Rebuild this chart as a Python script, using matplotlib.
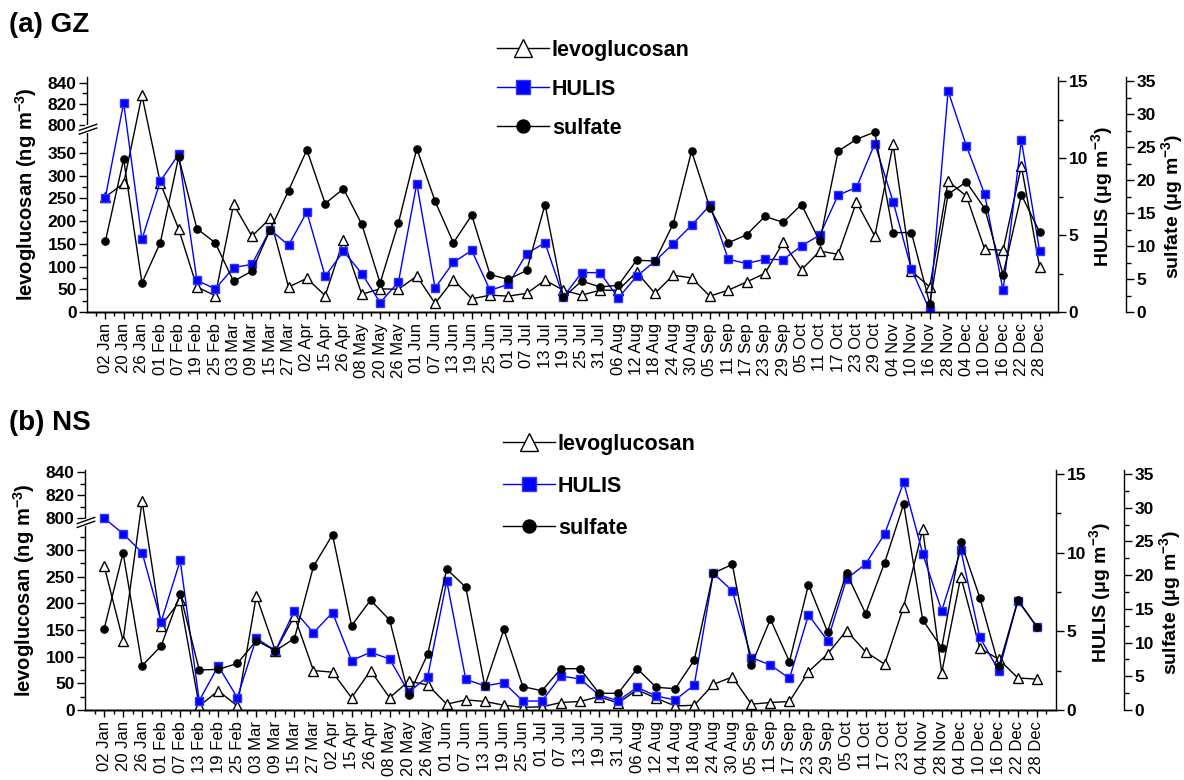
import numpy as np
import matplotlib
matplotlib.use("Agg")
import matplotlib.pyplot as plt
from matplotlib.ticker import FixedLocator

# ==========================================================
# Data
# ==========================================================

gz_dates = [
    "02 Jan", "20 Jan", "26 Jan", "01 Feb", "07 Feb", "19 Feb", "25 Feb",
    "03 Mar", "09 Mar", "15 Mar", "27 Mar", "02 Apr", "15 Apr", "26 Apr",
    "08 May", "20 May", "26 May", "01 Jun", "07 Jun", "13 Jun", "19 Jun",
    "25 Jun", "01 Jul", "07 Jul", "13 Jul", "19 Jul", "25 Jul", "31 Jul",
    "06 Aug", "12 Aug", "18 Aug", "24 Aug", "30 Aug", "05 Sep", "11 Sep",
    "17 Sep", "23 Sep", "29 Sep", "05 Oct", "11 Oct", "17 Oct", "23 Oct",
    "29 Oct", "04 Nov", "10 Nov", "16 Nov", "28 Nov", "04 Dec", "10 Dec",
    "16 Dec", "22 Dec", "28 Dec",
]

gz_levo = [
    253, 283, 828, 284, 183, 55, 36, 237, 167, 206, 55, 74, 36, 158, 39, 51,
    50, 79, 19, 71, 29, 37, 35, 41, 70, 48, 37, 48, 48, 88, 41, 81, 75, 35,
    48, 66, 85, 153, 93, 134, 127, 242, 167, 369, 90, 55, 288, 255, 138, 136,
    321, 99,
]

gz_hulis = [
    7.44, 13.6, 4.73, 8.5, 10.25, 2.06, 1.5, 2.89, 3.1, 5.36, 4.34, 6.5,
    2.32, 3.95, 2.5, 0.61, 1.95, 8.35, 1.56, 3.23, 4.0, 1.41, 1.8, 3.8, 4.5,
    0.98, 2.56, 2.56, 0.91, 2.32, 3.3, 4.45, 5.64, 6.94, 3.43, 3.15, 3.43,
    3.4, 4.3, 5.0, 7.6, 8.1, 10.95, 7.18, 2.78, 0.11, 14.37, 10.8, 7.65,
    1.41, 11.16, 3.95,
]

gz_sulfate = [
    10.7, 23.2, 4.4, 10.5, 23.5, 12.65, 10.5, 4.66, 6.2, 12.5, 18.4, 24.6,
    16.45, 18.7, 13.3, 4.4, 13.5, 24.8, 16.8, 10.5, 14.7, 5.67, 4.96, 6.3,
    16.3, 2.2, 4.7, 3.8, 4.05, 7.85, 7.74, 13.4, 24.4, 15.8, 10.5, 11.7,
    14.5, 13.6, 16.3, 10.7, 24.4, 26.2, 27.3, 12.05, 12.05, 1.27, 17.9,
    19.7, 15.7, 5.67, 17.8, 12.1,
]

ns_dates = [
    "02 Jan", "20 Jan", "26 Jan", "01 Feb", "07 Feb", "13 Feb", "19 Feb",
    "25 Feb", "03 Mar", "09 Mar", "15 Mar", "27 Mar", "02 Apr", "15 Apr",
    "26 Apr", "08 May", "20 May", "26 May", "01 Jun", "07 Jun", "13 Jun",
    "19 Jun", "25 Jun", "01 Jul", "07 Jul", "13 Jul", "19 Jul", "31 Jul",
    "06 Aug", "12 Aug", "14 Aug", "18 Aug", "24 Aug", "30 Aug", "05 Sep",
    "11 Sep", "17 Sep", "23 Sep", "29 Sep", "05 Oct", "11 Oct", "17 Oct",
    "23 Oct", "04 Nov", "28 Nov", "04 Dec", "10 Dec", "16 Dec", "22 Dec",
    "28 Dec",
]

ns_levo = [
    271, 130, 815, 158, 206, 7.5, 36, 7.5, 214, 111, 176, 74, 71, 23, 74, 23,
    54, 47, 11, 19, 16, 9, 5, 6, 14, 16, 25, 13, 38, 22, 7.5, 9, 48, 62, 11,
    14, 16, 72, 105, 149, 109, 86, 194, 339, 70, 250, 116, 95, 60, 58,
]

ns_hulis = [
    12.2, 11.2, 10.0, 5.61, 9.5, 0.59, 2.8, 0.78, 4.56, 3.77, 6.3, 4.91,
    6.19, 3.14, 3.67, 3.24, 1.12, 2.12, 8.2, 1.95, 1.53, 1.74, 0.57, 0.57,
    2.16, 1.97, 0.95, 0.59, 1.44, 0.89, 0.64, 1.59, 8.69, 7.57, 3.33, 2.86,
    2.01, 6.04, 4.41, 8.33, 9.28, 11.19, 14.47, 9.92, 6.31, 10.17, 4.62,
    2.48, 6.95, 5.26,
]

ns_sulfate = [
    11.97, 23.3, 6.57, 9.5, 17.2, 5.93, 6.03, 6.9, 10.3, 8.8, 10.6, 21.3,
    26.0, 12.5, 16.3, 13.35, 2.2, 8.3, 20.9, 18.2, 3.56, 11.97, 3.46, 2.86,
    6.13, 6.13, 2.48, 2.48, 6.13, 3.37, 3.16, 7.4, 20.3, 21.6, 6.67, 13.45,
    7.17, 18.6, 11.6, 20.3, 14.3, 21.85, 30.55, 13.35, 9.24, 24.96, 16.65,
    6.5, 16.3, 12.35,
]

# ==========================================================
# Style
# ==========================================================

plt.rcParams["font.family"] = ["Liberation Sans", "DejaVu Sans"]
plt.rcParams["font.weight"] = "bold"
plt.rcParams["axes.labelweight"] = "bold"
plt.rcParams["mathtext.fontset"] = "custom"
plt.rcParams["mathtext.rm"] = "Liberation Sans:bold"
plt.rcParams["mathtext.bf"] = "Liberation Sans:bold"
plt.rcParams["axes.linewidth"] = 1.0


def broken_scale(a, low_top, up_bottom, b, gap):
    # piecewise linear y scale: lower part, tiny gap, stretched upper part
    f_low = a * low_top
    f_up = f_low + gap

    def forward(y):
        y = np.asarray(y, dtype=float)
        return np.where(
            y <= low_top, a * y,
            np.where(y >= up_bottom, f_up + b * (y - up_bottom),
                     f_low + (y - low_top) * gap / (up_bottom - low_top)))

    def inverse(f):
        f = np.asarray(f, dtype=float)
        return np.where(
            f <= f_low, f / a,
            np.where(f >= f_up, up_bottom + (f - f_up) / b,
                     low_top + (f - f_low) * (up_bottom - low_top) / gap))

    return forward, inverse


def style_y(axis, major, minor):
    axis.yaxis.set_major_locator(FixedLocator(major))
    axis.yaxis.set_minor_locator(FixedLocator(minor))
    axis.tick_params(axis="y", which="major", length=6, width=1,
                     labelsize=12.5, pad=1.5)
    axis.tick_params(axis="y", which="minor", length=3.5, width=1)


fig = plt.figure(figsize=(11.84, 7.8), dpi=100)


def draw_panel(rect, dates, levo, hulis, sulfate, brk, levo_top,
               hulis_top, sulf_top, lo_major, lo_minor, title, title_y,
               leg_xy, leg_space):

    x = np.arange(len(dates))

    ax = fig.add_axes(rect)
    fwd, inv = broken_scale(*brk)
    ax.set_yscale("function", functions=(fwd, inv))
    ax.set_ylim(0, levo_top)
    ax.set_xlim(-1, len(dates))

    l1, = ax.plot(x, levo, color="black", lw=1.0, marker="^",
                  markersize=7.5, markerfacecolor="white",
                  markeredgecolor="black", markeredgewidth=1.0,
                  label="levoglucosan")

    ax_h = ax.twinx()
    l2, = ax_h.plot(x, hulis, color="#0000ff", lw=1.0, marker="s",
                    markersize=5.6, markerfacecolor="#0000ff",
                    markeredgecolor="#3333ff", label="HULIS")
    ax_h.set_ylim(0, hulis_top)

    ax_s = ax.twinx()
    l3, = ax_s.plot(x, sulfate, color="black", lw=1.0, marker="o",
                    markersize=5.2, label="sulfate")
    ax_s.set_ylim(0, sulf_top)
    ax_s.spines["right"].set_position(("outward", 49))

    for a_ in (ax, ax_h, ax_s):
        a_.spines["top"].set_visible(False)
    ax.spines["right"].set_visible(False)
    ax_h.spines["left"].set_visible(False)
    ax_s.spines["left"].set_visible(False)

    # x axis
    ax.set_xticks(x)
    ax.set_xticks(np.arange(-0.5, len(dates), 1.0), minor=True)
    ax.set_xticklabels(dates, rotation=90, fontsize=12, fontweight="normal")
    ax.tick_params(axis="x", which="major", length=5, width=1, pad=3)
    ax.tick_params(axis="x", which="minor", length=3, width=1)

    # y axes
    style_y(ax, lo_major + [800, 820, 840], lo_minor + [810, 830])
    style_y(ax_h, [0, 5, 10, 15], [2.5, 7.5, 12.5])
    style_y(ax_s, list(range(0, 36, 5)), list(np.arange(2.5, 35, 5)))

    ax.set_ylabel(r"levoglucosan (ng m$^{\mathbf{-3}}$)", fontsize=14.5)
    ax.yaxis.set_label_coords(-0.049, 0.5)
    ax_h.set_ylabel(r"HULIS ($\mathbf{\mu}$g m$^{\mathbf{-3}}$)", fontsize=14)
    ax_h.yaxis.set_label_coords(1.032, 0.49)
    ax_s.set_ylabel(r"sulfate ($\mathbf{\mu}$g m$^{\mathbf{-3}}$)",
                    fontsize=14)
    ax_s.yaxis.set_label_coords(1.104, 0.45)

    # break marks on the left spine
    yb = float((fwd(brk[1]) + brk[4] / 2) / fwd(levo_top))
    ax.plot([0, 0], [yb - 0.008, yb + 0.008], color="white", lw=3,
            transform=ax.transAxes, clip_on=False, zorder=5)
    for dy in (-0.008, 0.008):
        ax.plot([-0.008, 0.010], [yb + dy - 0.013, yb + dy + 0.013],
                color="black", lw=1.0, transform=ax.transAxes,
                clip_on=False, zorder=6)

    fig.text(0.008, title_y, title, fontsize=20, fontweight="bold",
             va="center", ha="left")

    fig.legend([l1, l2, l3], ["levoglucosan", "HULIS", "sulfate"],
               loc="upper left", bbox_to_anchor=leg_xy, frameon=False,
               fontsize=15.5, markerscale=1.8, handlelength=2.4,
               handletextpad=0.15, labelspacing=leg_space, borderpad=0,
               borderaxespad=0)


# ==========================================================
# (a) GZ
# ==========================================================

draw_panel(
    rect=[87 / 1184, 1 - 312 / 780, 971 / 1184, 235 / 780],
    dates=gz_dates, levo=gz_levo, hulis=gz_hulis, sulfate=gz_sulfate,
    brk=(0.4543, 400, 797, 1.06, 2.0), levo_top=845.3,
    hulis_top=15.28, sulf_top=35.65,
    lo_major=list(range(0, 351, 50)), lo_minor=list(range(25, 400, 50)),
    title="(a) GZ", title_y=1 - 25 / 780,
    leg_xy=(497 / 1184, 1 - 40 / 780), leg_space=0.83,
)

# ==========================================================
# (b) NS
# ==========================================================

draw_panel(
    rect=[85 / 1184, 1 - 710 / 780, 971 / 1184, 240 / 780],
    dates=ns_dates, levo=ns_levo, hulis=ns_hulis, sulfate=ns_sulfate,
    brk=(0.533, 350, 797, 1.14, 2.0), levo_top=842.1,
    hulis_top=15.25, sulf_top=35.6,
    lo_major=list(range(0, 301, 50)), lo_minor=list(range(25, 350, 50)),
    title="(b) NS", title_y=1 - 423 / 780,
    leg_xy=(503 / 1184, 1 - 434 / 780), leg_space=0.97,
)

fig.savefig("out.png", dpi=100)
